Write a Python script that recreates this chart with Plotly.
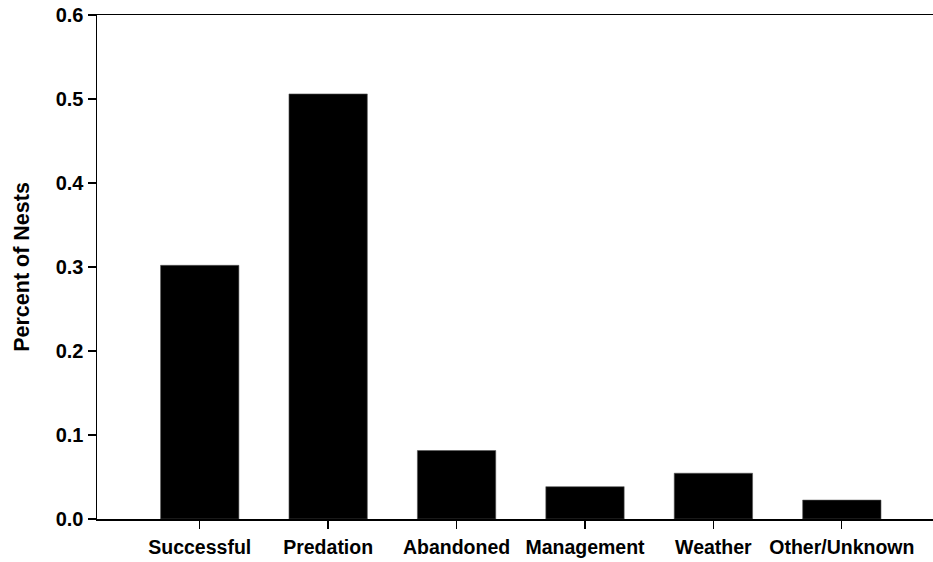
import plotly.graph_objects as go

categories = ["Successful", "Predation", "Abandoned", "Management", "Weather", "Other/Unknown"]
values = [0.302, 0.506, 0.0815, 0.0385, 0.0545, 0.0225]
y_ticks = [0.0, 0.1, 0.2, 0.3, 0.4, 0.5, 0.6]
y_ticklabels = ["0.0", "0.1", "0.2", "0.3", "0.4", "0.5", "0.6"]
y_title = "Percent of Nests"

FONT = "Liberation Sans, Arial, sans-serif"

fig = go.Figure(
    go.Bar(
        x=list(range(len(categories))),
        y=values,
        width=0.61,
        marker=dict(color="black", line=dict(color="#555555", width=0.6)),
        hoverinfo="skip",
    )
)

fig.update_layout(
    width=933,
    height=562,
    margin=dict(l=97, r=0, t=15, b=43, autoexpand=False),
    plot_bgcolor="white",
    paper_bgcolor="white",
    showlegend=False,
    font=dict(family=FONT, size=20, color="black", weight="bold"),
)

fig.update_xaxes(
    automargin=False,
    range=[-0.8, 5.71],
    tickmode="array",
    tickvals=list(range(len(categories))),
    ticktext=categories,
    ticks="outside",
    ticklen=8,
    tickwidth=1.3,
    tickcolor="black",
    showline=True,
    linecolor="black",
    linewidth=1.5,
    mirror=True,
    showgrid=False,
    zeroline=False,
    ticklabelstandoff=2,
    tickfont=dict(family=FONT, size=19.5, color="black", weight="bold"),
)

fig.update_yaxes(
    automargin=False,
    range=[0, 0.6],
    tickmode="array",
    tickvals=y_ticks,
    ticktext=y_ticklabels,
    ticks="outside",
    ticklen=8,
    tickwidth=1.3,
    tickcolor="black",
    showline=True,
    linecolor="black",
    linewidth=1.5,
    mirror=False,
    showgrid=False,
    zeroline=False,
    tickfont=dict(family=FONT, size=20, color="black", weight="bold"),
    title=dict(text=y_title, font=dict(family=FONT, size=21.5, color="black", weight="bold"), standoff=20),
)

fig.write_html(
    "out.html",
    config={"displayModeBar": False, "staticPlot": True},
    post_script="document.body.style.margin='0';document.body.style.overflow='hidden';",
)
